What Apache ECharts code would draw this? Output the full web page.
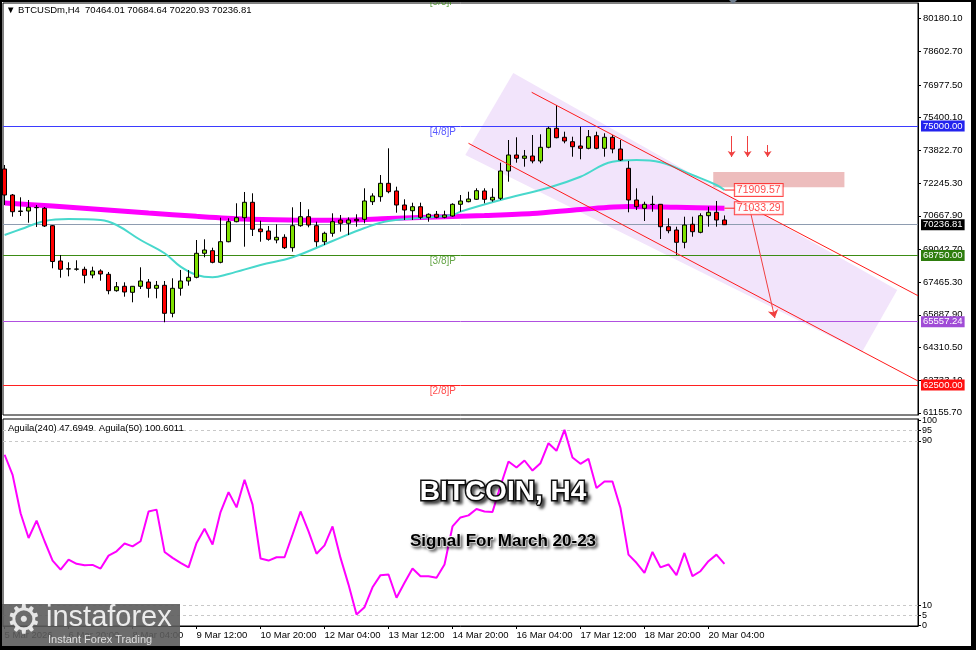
<!DOCTYPE html>
<html>
<head>
<meta charset="utf-8">
<script src="https://cdn.jsdelivr.net/npm/echarts@6/dist/echarts.min.js"></script>
<style>
html,body{margin:0;padding:0;background:#000;}
#c{width:976px;height:650px;}
</style>
</head>
<body>
<div id="c"></div>
<script>
// ---------- DATA ----------
const opens = [72925,71670,70874,70898,71057,71028,70189,68485,68099,68089,
  68084,67810,68003,67844,67052,67264,66974,67264,67472,67167,
  67312,65961,67167,67520,67698,68857,68982,68422,69416,70382,
  70575,71318,70030,69933,69498,69629,69127,70189,70623,70189,
  69416,69822,70464,70304,70497,70497,71347,71588,72234,71864,
  71188,70912,71105,70594,70739,70594,70657,71221,71347,71463,
  71864,71429,71511,72828,73601,73441,73552,73311,73972,74889,
  74455,74242,74035,73924,74532,73924,74455,73890,72959,71429,
  71028,71212,71221,70140,69981,69387,70256,69870,70672,70835,
  70464.01];
const closes = [71670,70864,70898,71076,71067,70174,68461,68084,68108,68099,
  67795,68003,67858,67052,67245,66989,67264,67520,67167,67312,
  65961,67167,67520,67698,68857,69016,68422,69416,70382,70575,
  71318,70015,69899,69532,69629,69127,70189,70623,70222,69416,
  69822,70382,70304,70464,70430,71381,71622,72234,71830,71188,
  70946,71105,70594,70739,70594,70705,71221,71381,71477,71878,
  71463,71559,72828,73601,73441,73552,73311,73972,74889,74435,
  74276,74001,73924,74484,73924,74455,73890,73359,71429,71105,
  71221,71221,70140,69947,69387,70222,69899,70672,70835,70464,
  70236.81];
const highs = [73118,71718,71559,71429,71188,71091,70222,68775,68422,68519,
  68210,68210,68084,67955,67472,67457,67279,68181,67616,67520,
  67520,67650,68051,68051,69498,69532,69127,70575,70546,71270,
  71815,71752,70430,70175,70256,69774,71076,71333,70980,70382,
  69899,70787,70705,70594,70739,71993,71752,72635,73924,72071,
  71463,71298,71298,70787,70898,70912,71270,71670,71829,71993,
  71993,71993,73229,74324,74455,73842,74566,74599,74966,76013,
  74725,74484,74966,74807,74725,74648,74566,74324,73311,71993,
  71347,71636,71236,70546,70140,70623,70623,70787,71105,71381,
  70684.64];
const lows = [71188,70623,70657,70333,70126,70126,68133,67679,67747,68017,
  67409,67650,67534,66878,67004,66762,66492,67134,66714,66685,
  65527,65768,66811,67293,67650,68664,68374,68374,69387,70353,
  69175,69692,69416,69465,69339,69064,68934,70140,70111,69175,
  69257,69658,69899,69740,70140,70304,71188,71347,71752,70816,
  70464,70464,70497,70382,70546,70546,70623,70864,71318,71429,
  71270,71347,71429,72312,73229,73036,73200,73200,73924,74406,
  74165,73518,73393,73876,73876,73518,73683,73311,70835,70946,
  70415,70864,69547,69822,68775,69098,69658,69822,70140,70140,
  70220.93];

// moving averages: [bar index, price]
const maSlow = [[0,71284],[6,71139],[12,70970],[18,70801],[24,70642],[30,70511],[36,70464],
  [42,70449],[48,70536],[54,70608],[60,70681],[66,70777],[72,70970],[78,71114],[84,71076],[90,71033.29]];
const maFast = [[0,69740],[2,70015],[5,70416],[8,70512],[12,70464],[14,70222],[17,69498],[20,68857],
  [22,68210],[24,67809],[26,67698],[28,67858],[32,68292],[36,68664],[41,69450],[45,70077],[48,70416],
  [56,70705],[57,70870],[62,71429],[68,72022],[72,72553],[76,73277],[79,73359],[82,73248],[86,72635],
  [89,72153],[90,71909.57]];

// oscillator (Aguila) per bar
const osc = [83.2,73.4,54.7,42.7,51.1,41.1,31.7,27.3,32.2,30.1,
  29.4,29.6,27.8,34.1,36.2,40,38.6,41.1,55.6,56.5,
  35.9,33,30.6,28.4,40.3,47.2,39.5,55.3,65,57.6,
  71,58.9,32.7,31.7,33.3,33.3,44.3,55.6,45.9,35,
  39.1,48.3,33,20,5.5,9,18.7,24.6,24.9,13.6,
  20.9,27.8,24.1,24.1,23.3,29.8,48.3,52.7,53.7,56.8,
  55.6,55.3,68,79.9,77,80.4,75.5,79.1,88.8,85.1,
  95.3,81.9,78.8,81.2,67,70.2,70.2,57.3,34.6,30.6,
  25.7,35.9,28.4,29.8,24.6,35.4,24.1,26.5,31.4,34.6,
  30.1];

const xTickIdx = [0,8,16,24,32,40,48,56,64,72,80,88];
const xTickLabels = ['5 Mar 2026','6 Mar 20:00','8 Mar 04:00','9 Mar 12:00','10 Mar 20:00','12 Mar 04:00',
  '13 Mar 12:00','14 Mar 20:00','16 Mar 04:00','17 Mar 12:00','18 Mar 20:00','20 Mar 04:00'];
const priceTicks = [61155.7,62733.1,64310.5,65887.9,67465.3,69042.7,70667.9,72245.3,73822.7,75400.1,76977.5,78602.7,80180.1];
const oscTicks = [0,5,10,90,95,100];
const oscGuides = [5,10,90,95];

const murreyLevels = [81250,75000,68750,62500];
const murreyNames = ['[5/8]P','[4/8]P','[3/8]P','[2/8]P'];
const supportLevel = 65557.24;
const lastPrice = closes[closes.length-1];

const channelUpper = [[65.9,76626],[114.2,66810]];
const channelLower = [[58.0,74165],[114.2,62694]];
const channelZone = [[63.6,77558],[111.6,67085],[107.2,64093],[57.6,73600]];
const resistZone = [[88.6,72780],[105,72042]];
const downArrows = [[[90.9,74517],[90.9,73504]],[[92.9,74517],[92.9,73504]],[[95.4,74083],[95.4,73504]]];
const targetArrow = [[93.05,71187],[96.3,65734]];
const maLabelPrices = [71909.57,71033.29];
const maLabelX = 91.3;
const murreyLabelX = 54.8;

// ---------- CHART ----------
const FONT = '"Liberation Sans", Arial, sans-serif';
const chart = echarts.init(document.getElementById('c'), null, {renderer:'canvas', width:976, height:650});
const XMIN = -0.2, XMAX = 114.2;
const candleData = opens.map((o,i)=>[i,o,closes[i],lows[i],highs[i]]);
const oscData = osc.map((v,i)=>[i,v]);
const lastIdx = opens.length-1;
const header = 'BTCUSDm,H4  ' + [opens[lastIdx],highs[lastIdx],lows[lastIdx],closes[lastIdx]].map(v=>v.toFixed(2)).join(' ');

const levelColors = {75000:['#3b3bff','#2323ee'],68750:['#3c8c14','#2e7d0e'],62500:['#ff2020','#ff1010']};

const option = {
  animation:false,
  backgroundColor:'#fff',
  textStyle:{fontFamily:FONT},
  title:[
    {text:'\u25BC '+header, left:6, top:5, padding:0, textStyle:{fontSize:9.5,fontWeight:'normal',color:'#000',fontFamily:FONT}},
    {text:'Aguila(240) 47.6949  Aguila(50) 100.6011', left:8, top:423, padding:0, textStyle:{fontSize:9.5,fontWeight:'normal',color:'#000',fontFamily:FONT}},
    {text:'BITCOIN, H4', left:503, top:478, padding:0, textAlign:'center', z:20,
      textStyle:{fontSize:28,fontWeight:'bold',color:'#fff',fontFamily:FONT,textBorderColor:'#111',textBorderWidth:3,
      textShadowColor:'rgba(0,0,0,0.55)',textShadowBlur:3,textShadowOffsetX:3,textShadowOffsetY:3}},
    {text:'Signal For March 20-23', left:503, top:533, padding:0, textAlign:'center', z:20,
      textStyle:{fontSize:17,fontWeight:'bold',color:'#000',fontFamily:FONT,textBorderColor:'#fff',textBorderWidth:2,
      textShadowColor:'rgba(0,0,0,0.4)',textShadowBlur:3,textShadowOffsetX:2,textShadowOffsetY:2}}
  ],
  grid:[
    {left:3,right:58,top:3,height:412,show:true,borderColor:'#000',borderWidth:1,backgroundColor:'#fff',outerBoundsMode:'none'},
    {left:3,right:58,top:419,height:207,show:true,borderColor:'#000',borderWidth:1,backgroundColor:'#fff',outerBoundsMode:'none'}
  ],
  xAxis:[
    {type:'value',gridIndex:0,min:XMIN,max:XMAX,show:false,splitLine:{show:false},axisLine:{onZero:false}},
    {type:'value',gridIndex:1,min:XMIN,max:XMAX,splitLine:{show:false},
      axisLine:{show:true,onZero:false,lineStyle:{color:'#000'}},
      axisTick:{show:true,customValues:xTickIdx,length:3,lineStyle:{color:'#000'}},
      axisLabel:{customValues:xTickIdx,formatter:v=>xTickLabels[xTickIdx.indexOf(Math.round(v))]||'',
        align:'left',margin:4,fontSize:9.5,color:'#000',fontFamily:FONT}}
  ],
  yAxis:[
    {type:'value',gridIndex:0,position:'right',min:61053,max:80936,scale:true,splitLine:{show:false},
      axisLine:{show:true,onZero:false,lineStyle:{color:'#000'}},
      axisTick:{show:true,customValues:priceTicks,length:3,lineStyle:{color:'#000'}},
      axisLabel:{customValues:priceTicks,formatter:v=>Number(v).toFixed(2),fontSize:9.5,color:'#000',margin:5,fontFamily:FONT}},
    {type:'value',gridIndex:1,position:'right',min:-0.15,max:100.6,splitLine:{show:false},
      axisLine:{show:true,onZero:false,lineStyle:{color:'#000'}},
      axisTick:{show:true,customValues:oscTicks,length:3,lineStyle:{color:'#000'}},
      axisLabel:{customValues:oscTicks,formatter:v=>String(Math.round(v)),fontSize:9,color:'#000',margin:4,fontFamily:FONT}}
  ],
  series:[
    // shaded channel zone
    {type:'custom',xAxisIndex:0,yAxisIndex:0,z:0,silent:true,data:[0],
      renderItem:(params,api)=>({type:'polygon',shape:{points:channelZone.map(p=>api.coord(p))},style:{fill:'#f2e4fb'}})},
    // resistance zone
    {type:'custom',xAxisIndex:0,yAxisIndex:0,z:1,silent:true,data:[0],
      renderItem:(params,api)=>{const a=api.coord(resistZone[0]),b=api.coord(resistZone[1]);
        return {type:'rect',shape:{x:a[0],y:a[1],width:b[0]-a[0],height:b[1]-a[1]},style:{fill:'#edbdbd'}};}},
    // level lines
    {type:'line',xAxisIndex:0,yAxisIndex:0,data:[],z:1,
      markLine:{silent:true,symbol:['none','none'],z:1,
        label:{show:true,position:'end',distance:3,formatter:p=>Number(p.value).toFixed(2),color:'#fff',fontSize:9.5,padding:[1,2,0,2],fontFamily:FONT},
        data:[
          {yAxis:75000,lineStyle:{color:levelColors[75000][0],width:1,type:'solid'},label:{backgroundColor:levelColors[75000][1]}},
          {yAxis:68750,lineStyle:{color:levelColors[68750][0],width:1,type:'solid'},label:{backgroundColor:levelColors[68750][1]}},
          {yAxis:62500,lineStyle:{color:levelColors[62500][0],width:1,type:'solid'},label:{backgroundColor:levelColors[62500][1]}},
          {yAxis:supportLevel,lineStyle:{color:'#b050e0',width:1,type:'solid'},label:{backgroundColor:'#a04cd6'}},
          {yAxis:lastPrice,lineStyle:{color:'#8e9cb0',width:1,type:'solid'},label:{backgroundColor:'#000'}}
        ]}},
    // slow MA (magenta)
    {type:'line',xAxisIndex:0,yAxisIndex:0,z:2,data:maSlow,smooth:0.3,symbol:'none',silent:true,
      lineStyle:{color:'#ff00ff',width:5}},
    // fast MA (turquoise)
    {type:'line',xAxisIndex:0,yAxisIndex:0,z:2,data:maFast,smooth:0.4,symbol:'none',silent:true,
      lineStyle:{color:'#48d8cc',width:2}},
    // candles
    {type:'candlestick',xAxisIndex:0,yAxisIndex:0,z:3,data:candleData,barWidth:5,silent:true,
      itemStyle:{color:'#7ee000',color0:'#ff0000',borderColor:'#000',borderColor0:'#000',borderColorDoji:'#000',borderWidth:1}},
    // channel lines
    {type:'line',xAxisIndex:0,yAxisIndex:0,z:4,data:channelUpper,symbol:'none',silent:true,lineStyle:{color:'#ff1a1a',width:1}},
    {type:'line',xAxisIndex:0,yAxisIndex:0,z:4,data:channelLower,symbol:'none',silent:true,lineStyle:{color:'#ff1a1a',width:1}},
    // connectors to MA labels
    {type:'line',xAxisIndex:0,yAxisIndex:0,z:4,data:[[maFast[maFast.length-1][0],maLabelPrices[0]],[maLabelX,maLabelPrices[0]]],symbol:'none',silent:true,lineStyle:{color:'#ff2020',width:1}},
    {type:'line',xAxisIndex:0,yAxisIndex:0,z:4,data:[[maSlow[maSlow.length-1][0],maLabelPrices[1]],[maLabelX,maLabelPrices[1]]],symbol:'none',silent:true,lineStyle:{color:'#ff2020',width:1}},
    // arrows
    {type:'lines',coordinateSystem:'cartesian2d',xAxisIndex:0,yAxisIndex:0,z:5,silent:true,
      symbol:['none','arrow'],symbolSize:6,
      lineStyle:{color:'#f04040',width:1,opacity:1},
      data:downArrows.map(c=>({coords:c})).concat([{coords:targetArrow,symbolSize:8}])},
    // MA price labels
    {type:'scatter',xAxisIndex:0,yAxisIndex:0,z:6,symbolSize:0,silent:true,
      data:maLabelPrices.map(p=>[maLabelX,p]),
      label:{show:true,position:'right',distance:0,formatter:p=>p.value[1].toFixed(2),color:'#ff1a1a',
        backgroundColor:'#fff',borderColor:'#ff1a1a',borderWidth:1,padding:[1,2,0,2],fontSize:10.5,fontFamily:FONT}},
    // murrey labels
    {type:'scatter',xAxisIndex:0,yAxisIndex:0,z:6,symbolSize:0,silent:true,clip:false,
      data:murreyLevels.map((v,i)=>({value:[murreyLabelX,v],
        label:{color:['#3f8f1a','#3030ff','#3f8f1a','#ff2020'][i]}})),
      label:{show:true,position:'bottom',distance:1,formatter:p=>murreyNames[p.dataIndex],fontSize:10,fontFamily:FONT}},
    // oscillator
    {type:'line',xAxisIndex:1,yAxisIndex:1,z:3,data:oscData,symbol:'none',silent:true,
      lineStyle:{color:'#ff00ff',width:2},
      markLine:{silent:true,symbol:['none','none'],z:1,label:{show:false},
        lineStyle:{color:'#c8c8c8',type:[3,3],width:1},
        data:oscGuides.map(v=>({yAxis:v}))}}
  ],
  graphic:[
    {type:'polygon',shape:{points:[[729,0],[733,4],[737,0]]},style:{fill:'#6e7c8c'},z:200},
    {type:'rect',shape:{x:0,y:604,width:180,height:46},style:{fill:'rgba(92,92,92,0.9)'},z:100},
    {type:'text',x:6,y:603,style:{text:'\u2699',font:'40px "DejaVu Sans"',fill:'#e6e6e6'},z:101},
    {type:'text',x:46,y:603,style:{text:'instaforex',font:'29px "Liberation Sans"',fill:'#ececec'},z:101},
    {type:'text',x:48,y:634,style:{text:'Instant Forex Trading',font:'11px "Liberation Sans"',fill:'#e0e0e0'},z:101},
    {type:'rect',shape:{x:0,y:0,width:976,height:2},style:{fill:'#000'},z:150},
    {type:'rect',shape:{x:0,y:0,width:2,height:650},style:{fill:'#000'},z:150},
    {type:'rect',shape:{x:971,y:0,width:5,height:650},style:{fill:'#000'},z:150},
    {type:'rect',shape:{x:0,y:646,width:976,height:4},style:{fill:'#000'},z:150}
  ]
};
chart.setOption(option);
</script>
</body>
</html>
